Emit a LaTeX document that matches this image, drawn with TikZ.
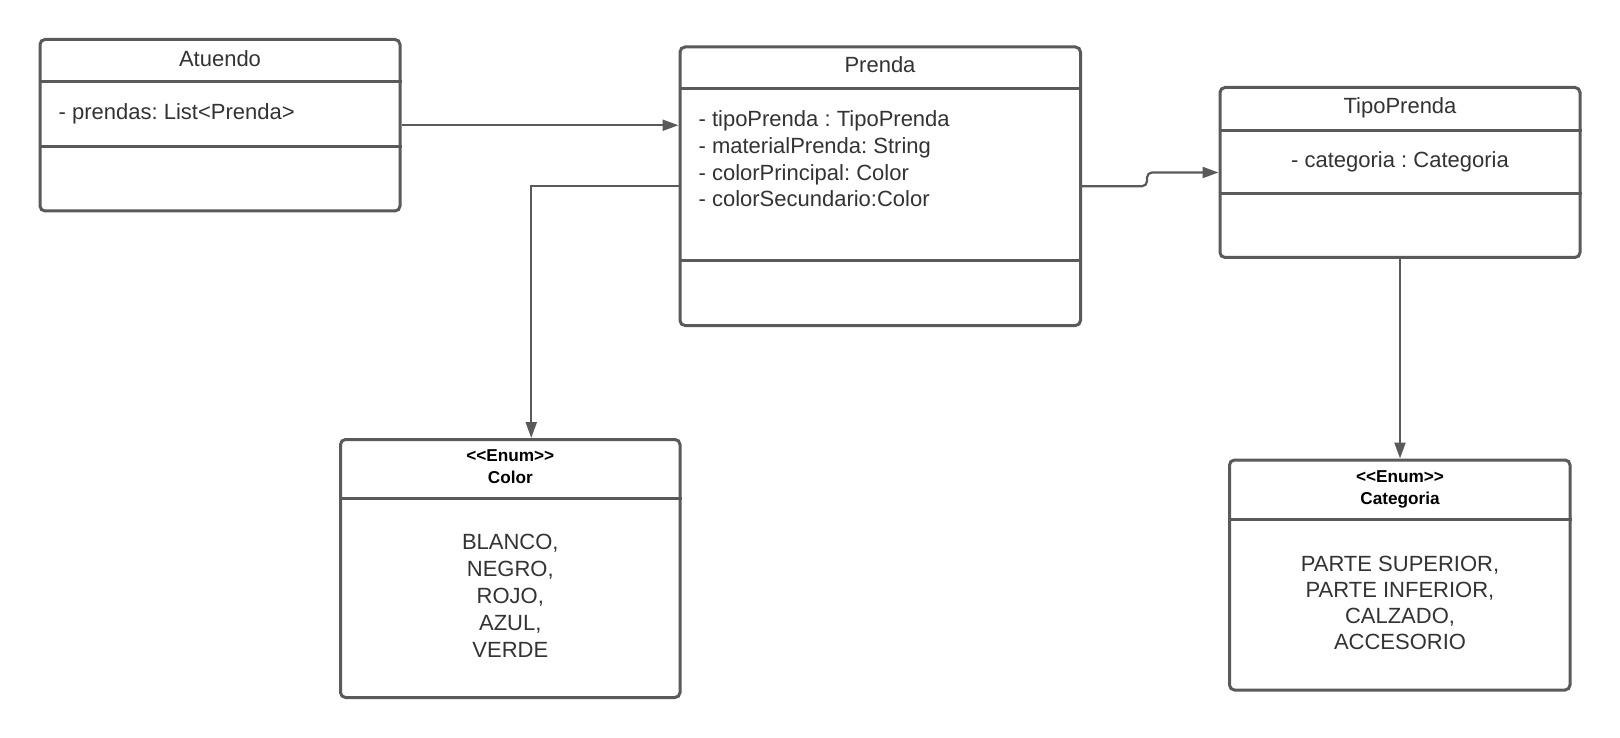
\documentclass[tikz,border=0pt]{standalone}
\usepackage{fontspec}
\setmainfont{Liberation Sans}
\usetikzlibrary{arrows.meta}
\definecolor{linec}{HTML}{5A5A5A}
\definecolor{txtc}{HTML}{333333}
\frenchspacing
\newcommand{\stereo}[1]{<\kern0pt<#1>\kern0pt>}
\begin{document}
\begin{tikzpicture}[x=1pt,y=-1pt,
  classbox/.style={draw=linec, line width=3pt, rounded corners=5pt, anchor=north west, inner sep=0pt},
  divider/.style={draw=linec, line width=3pt},
  txt/.style={font=\fontsize{22}{26}\selectfont, text=txtc, inner sep=0pt, text height=15.8pt, text depth=0pt},
  attr/.style={txt, anchor=west},
  enumhead/.style={font=\bfseries\fontsize{17.2}{20}\selectfont, text=black, inner sep=0pt, text height=12.3pt, text depth=0pt},
  assoc/.style={draw=linec, line width=2.2pt, -{Triangle[length=16pt,width=11pt]}}
]
\fill[white] (0,0) rectangle (1620,738);
\useasboundingbox (0,0) rectangle (1620,738);

% Atuendo
\node[classbox, minimum width=360pt, minimum height=171.5pt] (atuendo) at (38.5,38) {};
\draw[divider] (atuendo.west |- 0,81.6) -- (atuendo.east |- 0,81.6);
\draw[divider] (atuendo.west |- 0,146.7) -- (atuendo.east |- 0,146.7);
\node[txt] (atuendoT) at (220,58.5) {Atuendo};
\node[attr] (atuendoA) at (58.5,111.6) {- prendas: List<Prenda>};

% Prenda
\node[classbox, minimum width=400.5pt, minimum height=278.5pt] (prenda) at (678.5,45.5) {};
\draw[divider] (prenda.west |- 0,89) -- (prenda.east |- 0,89);
\draw[divider] (prenda.west |- 0,260.4) -- (prenda.east |- 0,260.4);
\node[txt] (prendaT) at (880,65) {Prenda};
\node[attr] (prendaA1) at (698.4,119) {- tipoPrenda : TipoPrenda};
\node[attr] (prendaA2) at (698.4,145.6) {- materialPrenda: String};
\node[attr] (prendaA3) at (698.4,172.2) {- colorPrincipal: Color};
\node[attr] (prendaA4) at (698.4,198.8) {- colorSecundario:Color};

% TipoPrenda
\node[classbox, minimum width=360pt, minimum height=170pt] (tipo) at (1218.5,86) {};
\draw[divider] (tipo.west |- 0,130.2) -- (tipo.east |- 0,130.2);
\draw[divider] (tipo.west |- 0,193.2) -- (tipo.east |- 0,193.2);
\node[txt] (tipoT) at (1400,105.5) {TipoPrenda};
\node[txt] (tipoA) at (1400,159.5) {- categoria : Categoria};

% Color enumeration
\node[classbox, minimum width=339.5pt, minimum height=258pt] (color) at (339,438) {};
\draw[divider] (color.west |- 0,498) -- (color.east |- 0,498);
\node[enumhead] (colorS) at (510.3,455.5) {\stereo{Enum}};
\node[enumhead] (colorN) at (510.3,477.8) {Color};
\node[txt] (colorV1) at (510.3,541.5) {BLANCO,};
\node[txt] (colorV2) at (510.3,568.5) {NEGRO,};
\node[txt] (colorV3) at (510.3,595.3) {ROJO,};
\node[txt] (colorV4) at (510.3,622.1) {AZUL,};
\node[txt] (colorV5) at (510.3,649.2) {VERDE};

% Categoria enumeration
\node[classbox, minimum width=340.5pt, minimum height=230pt] (cat) at (1228,458.5) {};
\draw[divider] (cat.west |- 0,519.5) -- (cat.east |- 0,519.5);
\node[enumhead] (catS) at (1400,476.3) {\stereo{Enum}};
\node[enumhead] (catN) at (1400,498.6) {Categoria};
\node[txt] (catV1) at (1400,563.2) {PARTE SUPERIOR,};
\node[txt] (catV2) at (1400,589.5) {PARTE INFERIOR,};
\node[txt] (catV3) at (1400,615.8) {CALZADO,};
\node[txt] (catV4) at (1400,642) {ACCESORIO};

% Associations
\draw[assoc] (atuendo.east) -- (prenda.west |- atuendo.east);
\draw[assoc] (prenda.west) -| ([xshift=21pt]color.north);
\path (prenda.east) ++(65,0) coordinate (jog1);
\coordinate (jog2) at (jog1 |- tipo.west);
\draw[assoc, rounded corners=5pt] (prenda.east) -- (jog1) -- (jog2) -- (tipo.west);
\draw[assoc] (tipo.south) -- (tipo.south |- cat.north);
\end{tikzpicture}
\end{document}
